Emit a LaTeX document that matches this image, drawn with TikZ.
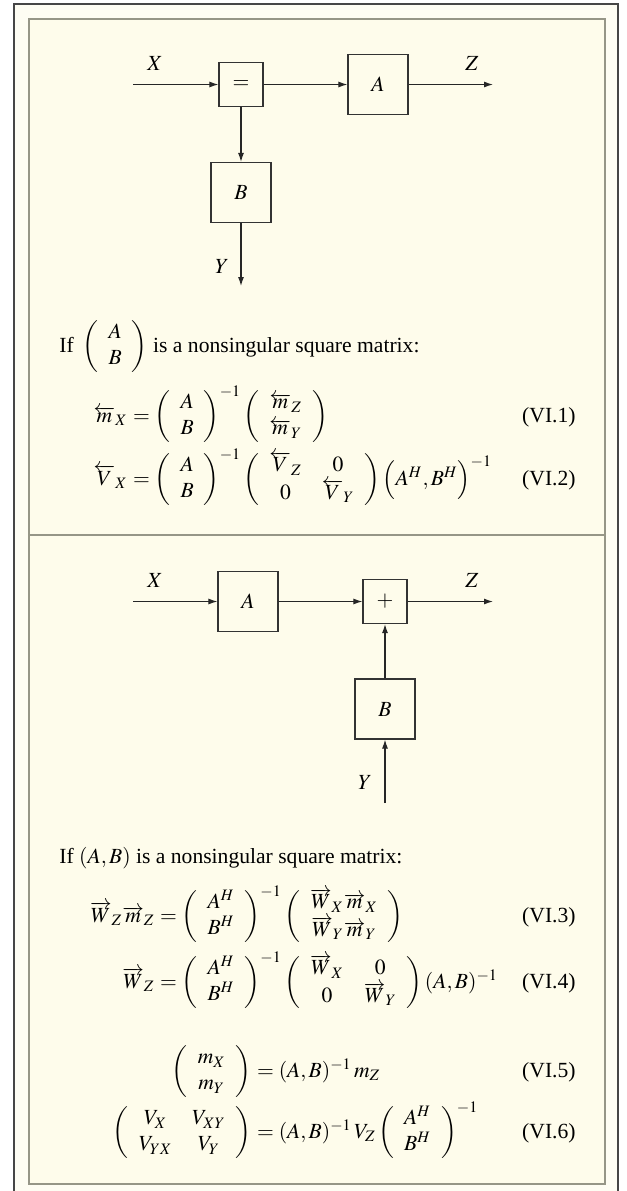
\documentclass[tikz,border=0pt]{standalone}
\usepackage{mathptmx}
\usepackage[no-math]{fontspec}
\setmainfont{Liberation Serif}
\usetikzlibrary{arrows.meta}
\definecolor{outerc}{RGB}{70,70,70}
\definecolor{innerc}{RGB}{150,150,135}
\definecolor{midc}{RGB}{254,253,243}
\definecolor{innc}{RGB}{254,252,235}
\newcommand{\colAB}{\left(\begin{array}{c}A\\B\end{array}\right)}
\newcommand{\colABH}{\left(\begin{array}{c}A^H\\B^H\end{array}\right)}
\newcommand{\myfs}{\fontsize{10.8pt}{13pt}\selectfont\setlength{\arraycolsep}{5pt}}
\begin{document}
\begin{tikzpicture}[x=0.5pt,y=-0.5pt,
  every node/.style={font=\myfs},
  blk/.style={draw=black!80, line width=0.6pt, inner sep=0pt, minimum width=30pt, minimum height=30pt},
  sblk/.style={blk, minimum width=22pt, minimum height=22pt},
  arr/.style={-{Latex[length=4.5pt,width=3pt]}, line width=0.55pt, draw=black!85},
  lbl/.style={inner sep=0pt},
  eql/.style={inner sep=0pt, anchor=base east},
  eqr/.style={inner sep=0pt, anchor=base west},
  tag/.style={inner sep=0pt, anchor=base east},
  ]
\useasboundingbox (0,0) rectangle (627,1191);
\fill[white] (0,0) rectangle (627,1191);
\draw[line width=1pt, draw=outerc, fill=midc] (14,4) rectangle (618,1200);
\draw[line width=1pt, draw=innerc, fill=innc] (29,19) rectangle (605,1184);
\draw[line width=0.8pt, draw=innerc] (29,535) -- (605,535);

% ---- top diagram
\node[sblk] (eq1) at (241,84.5) {$=$};
\node[blk] (A1) at (378,84.5) {$A$};
\node[blk] (B1) at (241,192.5) {$B$};
\coordinate (x1) at (133,84.5);
\coordinate (z1) at (493,84.5);
\coordinate (y1) at (241,286);
\node[lbl] (lx1) at (155,63) {$X$};
\node[lbl] (lz1) at (472,63) {$Z$};
\node[lbl] (ly1) at (222,266) {$Y$};
\draw[arr] (x1) -- (eq1);
\draw[arr] (eq1) -- (A1);
\draw[arr] (A1) -- (z1);
\draw[arr] (eq1) -- (B1);
\draw[arr] (B1) -- (y1);

\node[inner sep=0pt, anchor=base west] (if1) at (59,352) {If\, $\colAB$ is a nonsingular square matrix:};

\node[eql] (e1l) at (128,422) {$\overleftarrow{m}_X$};
\node[eqr] (e1r) at (128,422) {${}=\colAB^{-1}\left(\begin{array}{c}\overleftarrow{m}_Z\\\overleftarrow{m}_Y\end{array}\right)$};
\node[tag] (t1) at (576,422) {(VI.1)};

\node[eql] (e2l) at (128,485) {$\overleftarrow{V}_X$};
\node[eqr] (e2r) at (128,485) {${}=\colAB^{-1}\left(\begin{array}{cc}\overleftarrow{V}_Z&0\\0&\overleftarrow{V}_Y\end{array}\right)\Bigl(A^H,B^H\Bigr)^{-1}$};
\node[tag] (t2) at (576,485) {(VI.2)};

% ---- bottom diagram
\node[blk] (A2) at (248,601.5) {$A$};
\node[sblk] (pl) at (385,601.5) {$+$};
\node[blk] (B2) at (385,709) {$B$};
\coordinate (x2) at (133,601.5);
\coordinate (z2) at (493,601.5);
\coordinate (y2) at (385,803);
\node[lbl] (lx2) at (155,580) {$X$};
\node[lbl] (lz2) at (472,580) {$Z$};
\node[lbl] (ly2) at (365,782) {$Y$};
\draw[arr] (x2) -- (A2);
\draw[arr] (A2) -- (pl);
\draw[arr] (pl) -- (z2);
\draw[arr] (B2) -- (pl);
\draw[arr] (y2) -- (B2);

\node[inner sep=0pt, anchor=base west] (if2) at (59,863) {If $(A,B)$ is a nonsingular square matrix:};

\node[eql] (e3l) at (155,922) {$\overrightarrow{W}_Z\overrightarrow{m}_Z$};
\node[eqr] (e3r) at (155,922) {${}=\colABH^{-1}\left(\begin{array}{c}\overrightarrow{W}_X\overrightarrow{m}_X\\\overrightarrow{W}_Y\overrightarrow{m}_Y\end{array}\right)$};
\node[tag] (t3) at (576,922) {(VI.3)};

\node[eql] (e4l) at (155,988) {$\overrightarrow{W}_Z$};
\node[eqr] (e4r) at (155,988) {${}=\colABH^{-1}\left(\begin{array}{cc}\overrightarrow{W}_X&0\\0&\overrightarrow{W}_Y\end{array}\right)(A,B)^{-1}$};
\node[tag] (t4) at (576,988) {(VI.4)};

\node[eql] (e5l) at (252,1077) {$\left(\begin{array}{c}m_X\\m_Y\end{array}\right)$};
\node[eqr] (e5r) at (252,1077) {${}=(A,B)^{-1}\,m_Z$};
\node[tag] (t5) at (576,1077) {(VI.5)};

\node[eql] (e6l) at (252,1138) {$\left(\begin{array}{cc}V_X&V_{XY}\\V_{YX}&V_Y\end{array}\right)$};
\node[eqr] (e6r) at (252,1138) {${}=(A,B)^{-1}\,V_Z\colABH^{-1}$};
\node[tag] (t6) at (576,1138) {(VI.6)};
\end{tikzpicture}
\end{document}
